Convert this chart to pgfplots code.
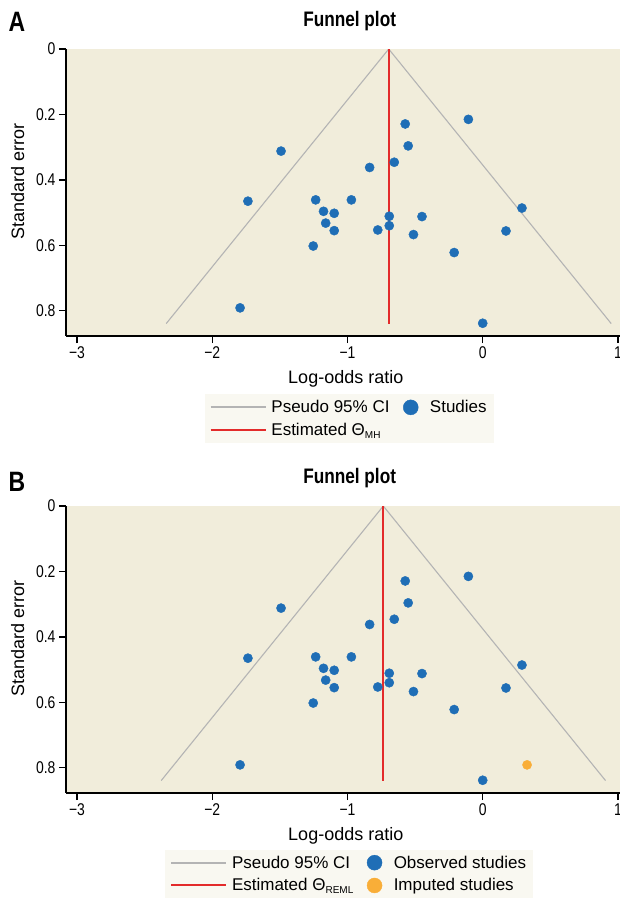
\documentclass[border=0pt]{standalone}
\usepackage{pgfplots}
\pgfplotsset{compat=1.18}
\usepackage{pgfplotstable}
\usepackage{fontspec}
\setmainfont{Liberation Sans}
\newfontfamily\condfont[FakeStretch=0.82]{Liberation Sans}

\definecolor{panelbg}{HTML}{F1EDDB}
\definecolor{legendbg}{HTML}{F9F8F1}
\definecolor{studyblue}{HTML}{1F6EB6}
\definecolor{imputedorange}{HTML}{F9AE38}
\definecolor{thetared}{HTML}{E32B2B}
\definecolor{cigray}{HTML}{B4B4B4}

% observed studies: log-odds ratio and its standard error
\pgfplotstableread{
lor     se
-0.106  0.215
-0.573  0.229
-1.491  0.312
-0.551  0.296
-0.654  0.346
-0.836  0.362
-1.736  0.465
-1.235  0.461
-0.971  0.461
-1.177  0.496
-1.098  0.502
-1.161  0.532
-1.098  0.555
-0.776  0.553
-0.691  0.511
-0.691  0.540
-0.449  0.512
-0.512  0.567
-1.253  0.602
-0.211  0.622
 0.172  0.556
 0.290  0.486
-1.794  0.791
 0.000  0.838
}\studies

% trim-and-fill imputed study
\pgfplotstableread{
lor     se
 0.328  0.791
}\imputed

\pgfplotsset{
  funnelaxis/.style={
    scale only axis,
    width=554pt, height=287pt,
    xmin=-3.081, xmax=1.015,
    ymin=0, ymax=0.877,
    y dir=reverse,
    axis x line*=bottom,
    axis y line*=left,
    axis line style={line width=1.8pt, black},
    tick align=outside,
    major tick length=7pt,
    tick style={line width=1.2pt, black},
    xtick={-3,-2,-1,0,1},
    xticklabels={−3,−2,−1,0,1},
    ytick={0,0.2,0.4,0.6,0.8},
    yticklabels={0,0.2,0.4,0.6,0.8},
    xticklabel style={font=\condfont\fontsize{17}{17}\selectfont},
    yticklabel style={font=\condfont\fontsize{17}{17}\selectfont},
    axis background/.style={fill=panelbg},
    title={Funnel plot},
    title style={at={(axis description cs:0.512,1.076)}, anchor=center,
      font=\condfont\bfseries\fontsize{21}{21}\selectfont},
    xlabel={Log-odds ratio},
    xlabel style={at={(axis description cs:0.505,-0.148)}, anchor=center,
      font=\fontsize{18}{18}\selectfont},
    ylabel={Standard error},
    ylabel style={at={(axis description cs:-0.087,0.54)}, anchor=center,
      font=\fontsize{18}{18}\selectfont},
    legend columns=2,
    legend cell align=left,
    legend style={
      anchor=north, fill=legendbg, draw=none,
      font=\fontsize{17}{19}\selectfont,
      inner xsep=5pt, inner ysep=4pt,
      row sep=5pt,
      /tikz/every even column/.append style={column sep=11pt},
    },
  },
  cistyle/.style={cigray, line width=1.1pt,
    legend image code/.code={\draw[##1, line width=2pt] (0pt,0pt) -- (55pt,0pt);
      \path (0pt,0pt) (58pt,0pt);}},
  thetastyle/.style={thetared, line width=1.8pt,
    legend image code/.code={\draw[##1, line width=2pt] (0pt,0pt) -- (55pt,0pt);
      \path (0pt,0pt) (58pt,0pt);}},
  dotstyle/.style={only marks, mark=*, mark size=4.6pt, color=#1,
    mark options={draw=none, fill=#1},
    legend image code/.code={\fill[#1] (8pt,0pt) circle (7.5pt);
      \path (0pt,0pt) (25pt,0pt);}},
}

\begin{document}
\begin{tikzpicture}
\path[use as bounding box] (0pt,0pt) rectangle (620pt,-903pt);

% ---------- panel A: fixed-effect (Mantel-Haenszel) estimate ----------
\node[font=\condfont\bfseries\fontsize{28}{28}\selectfont] at (17pt,-22pt) {A};
\begin{axis}[funnelaxis,
  at={(66pt,-336pt)}, anchor=south west,
  legend style={at={(axis description cs:0.511,-0.203)}},
]
\addplot[cistyle] coordinates {(-2.340,0.839) (-0.695,0) (0.950,0.839)};
\addlegendentry{Pseudo 95\% CI}
\addplot[dotstyle=studyblue] table[x=lor, y=se] {\studies};
\addlegendentry{Studies}
\addplot[thetastyle] coordinates {(-0.695,0) (-0.695,0.839)};
\addlegendentry{Estimated Θ\raisebox{-2.5pt}{\fontsize{10}{10}\selectfont MH}}
\end{axis}

% ---------- panel B: REML estimate with trim-and-fill ----------
\node[font=\condfont\bfseries\fontsize{28}{28}\selectfont] at (17pt,-482pt) {B};
\begin{axis}[funnelaxis,
  at={(66pt,-793pt)}, anchor=south west,
  legend style={at={(axis description cs:0.511,-0.197)}},
]
\addplot[cistyle] coordinates {(-2.377,0.839) (-0.735,0) (0.908,0.839)};
\addlegendentry{Pseudo 95\% CI}
\addplot[dotstyle=studyblue] table[x=lor, y=se] {\studies};
\addlegendentry{Observed studies}
\addplot[thetastyle] coordinates {(-0.735,0) (-0.735,0.839)};
\addlegendentry{Estimated Θ\raisebox{-2.5pt}{\fontsize{10}{10}\selectfont REML}}
\addplot[dotstyle=imputedorange] table[x=lor, y=se] {\imputed};
\addlegendentry{Imputed studies}
\end{axis}
\end{tikzpicture}
\end{document}
